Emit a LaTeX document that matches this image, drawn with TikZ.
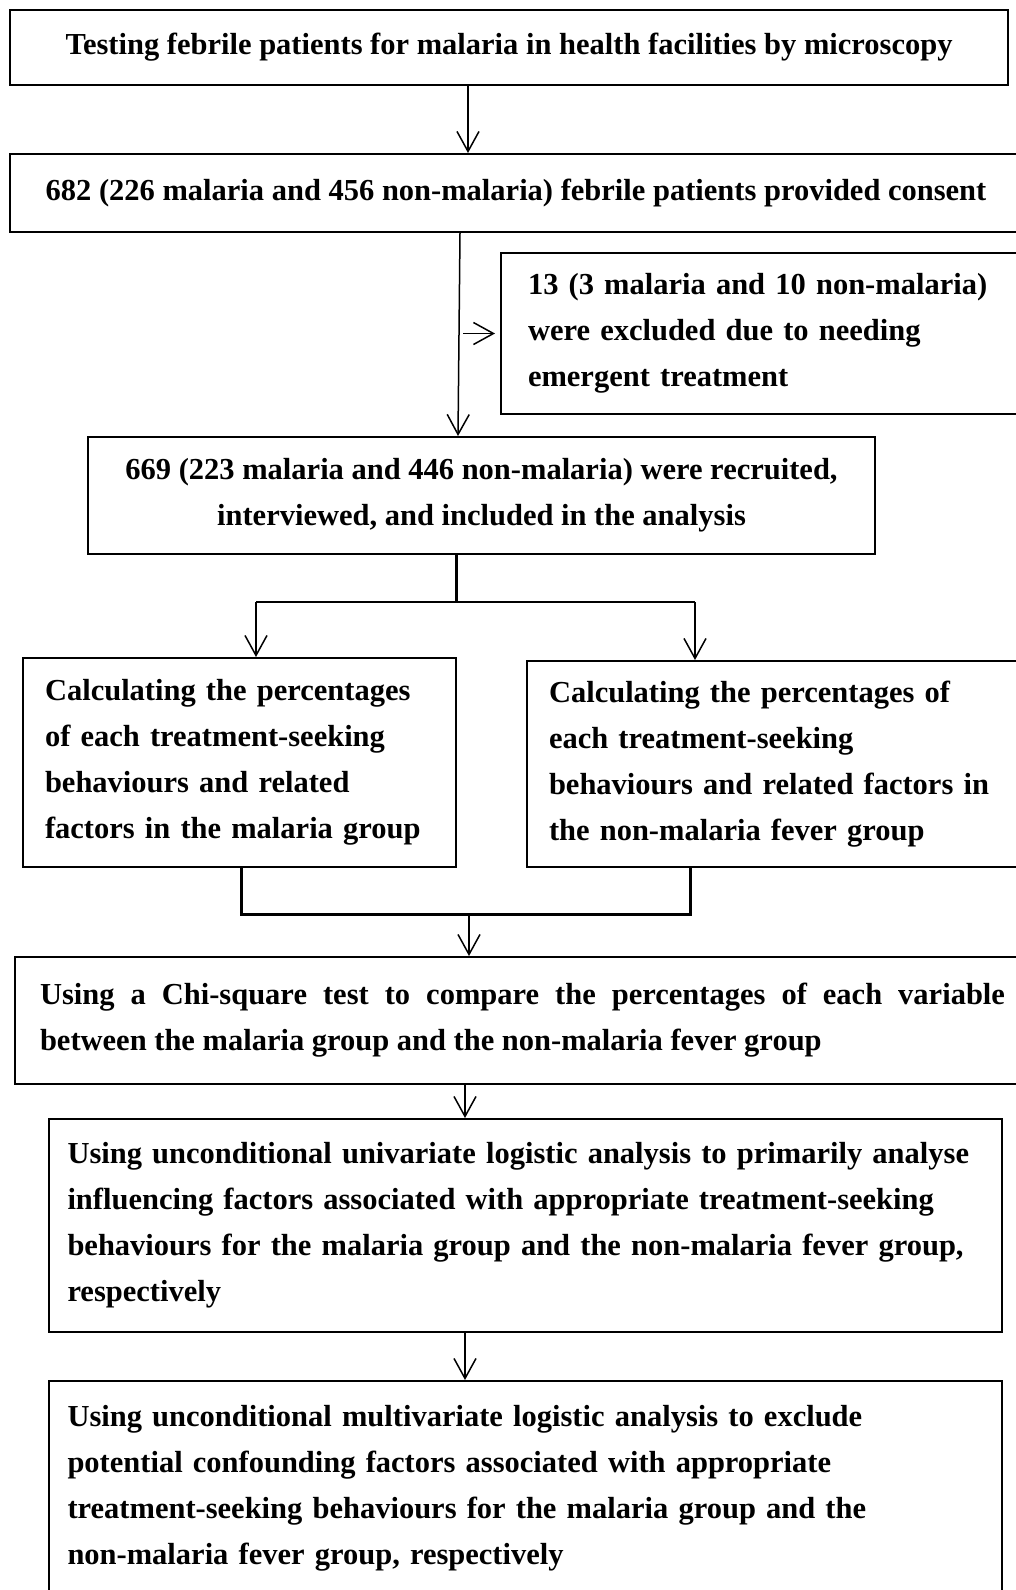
\documentclass[tikz,border=0pt]{standalone}
\usepackage{fontspec}
\setmainfont{Liberation Serif}
\usetikzlibrary{arrows.meta,positioning}

\tikzset{
  box/.style={draw, line width=2pt, inner sep=0pt,
    font=\bfseries\fontsize{30.5}{46}\selectfont},
  arr/.style={line width=1.5pt,
    -{Straight Barb[length=20pt,width=22pt,line width=1.5pt]}},
  thickline/.style={line width=3pt},
}

\begin{document}
\begin{tikzpicture}[x=1pt,y=-1pt]
      \useasboundingbox (0,0) rectangle (1016,1590);
      \node[box, minimum width=998pt, minimum height=75pt] (test) at (509,47.5)
        {Testing febrile patients for malaria in health facilities by microscopy};
      \node[box, minimum width=1012pt, minimum height=78pt] (consent) at (516,193)
        {682 (226 malaria and 456 non-malaria) febrile patients provided consent};
      \node[box, minimum width=529pt, minimum height=161pt, text width=475pt, align=left] (excl) at (765.5,333.5)
        {13 (3 malaria and 10 non-malaria)\\ were excluded due to needing\\ emergent treatment};
      \node[box, minimum width=787pt, minimum height=117pt, align=center] (recruit) at (481.5,495.5)
        {669 (223 malaria and 446 non-malaria) were recruited,\\ interviewed, and included in the analysis};
      \node[box, minimum width=433pt, minimum height=209pt, text width=389pt, align=left] (malgrp) at (239.5,762.5)
        {Calculating the percentages\\ of each treatment-seeking\\ behaviours and related\\ factors in the malaria group};
      \node[box, minimum width=503pt, minimum height=206pt, text width=459pt, align=left] (nongrp) at (778.5,764)
        {Calculating the percentages of\\ each treatment-seeking\\ behaviours and related factors in\\ the non-malaria fever group};
      \node[box, minimum width=1015pt, minimum height=127pt, text width=965pt, align=justify] (chisq) at (522.5,1020.5)
        {Using a Chi-square test to compare the percentages of each variable\linebreak between the malaria group and the non-malaria fever group};
      \node[box, minimum width=953pt, minimum height=213pt, text width=916pt, align=left] (univ) at (525.5,1225.5)
        {Using unconditional univariate logistic analysis to primarily analyse\\ influencing factors associated with appropriate treatment-seeking\\ behaviours for the malaria group and the non-malaria fever group,\\ respectively};
      \node[box, minimum width=953pt, minimum height=214pt, text width=916pt, align=left] (multi) at (525.5,1488)
        {Using unconditional multivariate logistic analysis to exclude\\ potential confounding factors associated with appropriate\\ treatment-seeking behaviours for the malaria group and the\\ non-malaria fever group, respectively};

      \draw[arr] ([xshift=-41pt]test.south) -- ([xshift=-48pt]consent.north);
      \draw[arr] ([xshift=-56pt]consent.south) -- ([xshift=-23.5pt]recruit.north);
      \draw[arr] ([xshift=-37pt]excl.west) -- ([xshift=-5pt]excl.west);

      \draw[thickline] ([xshift=-25.5pt]recruit.south) -- ++(0,47) coordinate (split);
      \path ([xshift=16.5pt]malgrp.north) coordinate (ltop)
            ([xshift=-83.5pt]nongrp.north) coordinate (rtop);
      \draw[line width=2pt] (ltop |- split) -- (rtop |- split);
      \draw[arr] (ltop |- split) -- (ltop);
      \draw[arr] (rtop |- split) -- (rtop);

      \path ([xshift=1.5pt]malgrp.south) coordinate (lbot)
            ([xshift=-88.5pt]nongrp.south) coordinate (rbot);
      \draw[thickline] (lbot) -- ++(0,46) coordinate (merge) -- (merge -| rbot) -- (rbot);
      \draw[arr] ([xshift=-53.5pt]chisq.north |- merge) -- ([xshift=-53.5pt]chisq.north);

      \draw[arr] ([xshift=-57.5pt]chisq.south) -- ([xshift=-60.5pt]univ.north);
      \draw[arr] ([xshift=-60.5pt]univ.south) -- ([xshift=-60.5pt]multi.north);
\end{tikzpicture}
\end{document}
